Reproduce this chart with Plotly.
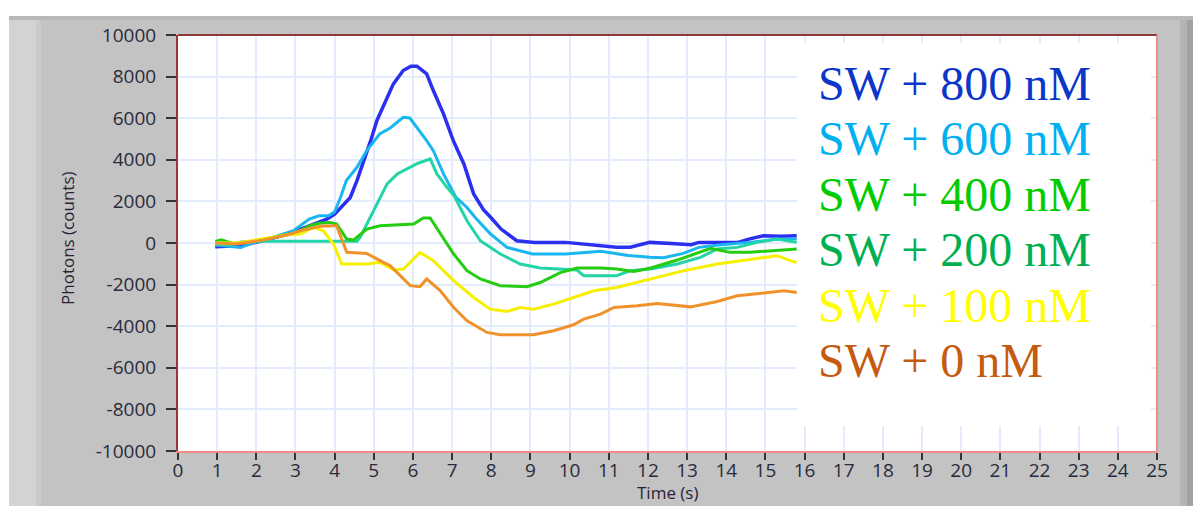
import plotly.graph_objects as go

# ---- data: time (s) and photon counts for each concentration ----
t_800 = [0.95, 1.4, 1.85, 2.3, 2.85, 3.35, 3.8, 4.0, 4.2, 4.4, 4.57, 4.75, 4.92, 5.08, 5.35, 5.5, 5.75,
         5.95, 6.1, 6.35, 6.52, 6.78, 7.03, 7.3, 7.55, 7.8, 8.0, 8.25, 8.65, 9.1, 9.9, 10.4, 10.8, 11.2,
         11.55, 12.05, 12.6, 13.1, 13.3, 13.8, 14.3, 14.6, 14.95, 15.4, 15.8]
c_800 = [-180, -150, -20, 170, 460, 830, 1150, 1390, 1790, 2190, 3000, 3960, 4920, 5890, 7010, 7650, 8290,
         8500, 8500, 8130, 7330, 6210, 4920, 3800, 2360, 1600, 1200, 670, 110, 30, 30, -50, -130, -200,
         -200, 30, -30, -80, 30, 30, 30, 200, 350, 330, 350]

t_600 = [0.95, 1.3, 1.6, 1.9, 2.3, 2.95, 3.35, 3.6, 3.85, 4.0, 4.15, 4.3, 4.57, 4.82, 5.15, 5.42, 5.75,
         5.92, 6.1, 6.35, 6.52, 6.78, 7.1, 7.38, 7.6, 7.97, 8.4, 9.05, 9.9, 10.8, 11.5, 12.05, 12.4, 12.9,
         13.3, 13.8, 14.6, 15.3, 15.8]
c_600 = [-100, -150, -220, 0, 200, 590, 1150, 1310, 1310, 1500, 2190, 3000, 3640, 4440, 5240, 5530, 6040,
         6010, 5560, 4920, 4440, 3320, 2190, 1710, 1200, 450, -210, -530, -530, -400, -600, -690, -710, -500,
         -210, -100, 30, 190, 190]

t_400 = [0.95, 1.3, 1.6, 2.0, 3.0, 4.0, 4.57, 4.65, 4.82, 5.08, 5.34, 5.6, 5.84, 6.09, 6.44, 6.61, 6.86,
         7.04, 7.38, 7.72, 8.23, 8.74, 9.25, 9.93, 10.19, 10.36, 10.8, 11.2, 11.55, 12.07, 12.75, 13.34,
         13.77, 14.28, 14.79, 15.3, 15.8]
c_400 = [-50, -100, 50, 80, 80, 80, 80, 270, 910, 1880, 2840, 3320, 3560, 3800, 4040, 3320, 2700,
         2300, 1070, 110, -530, -1010, -1200, -1250, -1300, -1570, -1570, -1570, -1330, -1250, -1010, -690,
         -290, -210, 30, 190, 30]

t_200 = [0.95, 1.1, 1.4, 2.0, 2.5, 3.03, 3.37, 3.6, 3.88, 4.05, 4.31, 4.48, 4.82, 5.16, 6.02, 6.26, 6.44,
         6.7, 7.04, 7.38, 7.72, 8.23, 8.91, 9.25, 9.76, 10.19, 10.8, 11.2, 11.64, 12.07, 12.75, 13.6, 14.1,
         14.6, 15.3, 15.8]
c_200 = [80, 150, -20, 100, 300, 510, 830, 950, 990, 910, 190, 140, 670, 830, 910, 1200, 1200,
         430, -530, -1330, -1730, -2050, -2100, -1900, -1420, -1200, -1200, -1250, -1370, -1200, -820, -260, -450,
         -450, -340, -290]

t_100 = [0.95, 1.5, 2.18, 2.8, 3.12, 3.46, 3.71, 3.97, 4.18, 4.82, 5.16, 5.51, 5.76, 6.18, 6.52, 7.04,
         7.55, 7.97, 8.4, 8.74, 9.08, 9.59, 10.1, 10.62, 11.2, 12.07, 12.92, 13.77, 14.62, 15.3, 15.64, 15.8]
c_100 = [0, 0, 200, 400, 430, 750, 590, -50, -1010, -1010, -930, -1300, -1250, -450, -850, -1810,
         -2620, -3180, -3290, -3100, -3180, -2940, -2620, -2300, -2140, -1730, -1330, -1010, -770, -610, -850, -930]

t_0 = [0.95, 1.5, 2.2, 2.8, 3.12, 3.63, 3.97, 4.05, 4.31, 4.82, 5.16, 5.42, 5.93, 6.18, 6.35, 6.7, 7.04,
       7.38, 7.89, 8.23, 9.08, 9.59, 10.1, 10.36, 10.79, 11.13, 11.73, 12.24, 13.09, 13.77, 14.28, 14.88,
       15.47, 15.8]
c_0 = [0, -50, 150, 400, 590, 800, 830, 830, -450, -500, -850, -1090, -2050, -2100, -1730, -2300, -3100,
       -3740, -4300, -4410, -4410, -4220, -3930, -3660, -3420, -3100, -3020, -2910, -3070, -2810, -2540, -2430,
       -2300, -2380]

labels = ["SW + 800 nM", "SW + 600 nM", "SW + 400 nM", "SW + 200 nM", "SW + 100 nM", "SW + 0 nM"]
label_colors = ["#0b36c9", "#00b0f0", "#00cc00", "#00b050", "#ffff00", "#c55a11"]

x_title = "Time (s)"
y_title = "Photons (counts)"
x_ticks = list(range(0, 26))
y_ticks = list(range(-10000, 10001, 2000))
y_ticktext = [str(v) for v in y_ticks]

series = [
    (t_800, c_800, "#2b2ff0", 3.5),
    (t_600, c_600, "#1ab6f2", 3),
    (t_400, c_400, "#22d4a6", 3),
    (t_200, c_200, "#26cc12", 3),
    (t_100, c_100, "#f6f000", 3),
    (t_0, c_0, "#f0922c", 3),
]

# ---- page geometry (pixels) ----
W, H = 1193, 506
L, R, T, B = 178, 1157, 35, 451


def px(x):
    return (x - L) / (R - L)


def py(y):
    return (B - y) / (B - T)


fig = go.Figure()
for (t, c, col, w), name in zip(series, labels):
    fig.add_trace(go.Scatter(x=t, y=c, mode="lines", name=name,
                             line=dict(color=col, width=w), showlegend=False))

tick_font = dict(family="Open Sans", size=19, color="#2a2a3a")

fig.update_layout(
    width=W, height=H, autosize=False,
    margin=dict(l=L, r=W - R, t=T, b=H - B, autoexpand=False),
    paper_bgcolor="#c3c3c3",
    plot_bgcolor="white",
    xaxis=dict(range=[0, 25], tickvals=x_ticks, showgrid=True, gridcolor="#e2ecfd", gridwidth=2,
               zeroline=False, showline=True, linecolor="#f08a84", linewidth=2,
               ticks="outside", ticklen=7, tickwidth=2, tickcolor="#333333",
               ticklabelstandoff=-6, tickfont=tick_font, automargin=False),
    yaxis=dict(range=[-10000, 10000], tickvals=y_ticks, ticktext=y_ticktext,
               showgrid=True, gridcolor="#e2ecfd", gridwidth=2,
               zeroline=False, showline=True, linecolor="#9a3636", linewidth=2,
               ticks="outside", ticklen=10, tickwidth=2, tickcolor="#333333",
               ticklabelstandoff=6, automargin=False, tickfont=tick_font),
)

shapes = [
    # white border strips around the grey panel
    dict(type="rect", xref="paper", yref="paper", x0=px(0), x1=px(W), y0=py(16), y1=py(0),
         fillcolor="white", line_width=0, layer="below"),
    dict(type="rect", xref="paper", yref="paper", x0=px(0), x1=px(9), y0=py(H), y1=py(0),
         fillcolor="white", line_width=0, layer="below"),
    # panel bevels
    dict(type="rect", xref="paper", yref="paper", x0=px(9), x1=px(36), y0=py(H), y1=py(16),
         fillcolor="#d3d3d3", line_width=0, layer="below"),
    dict(type="rect", xref="paper", yref="paper", x0=px(36), x1=px(41), y0=py(H), y1=py(16),
         fillcolor="#cacaca", line_width=0, layer="below"),
    dict(type="rect", xref="paper", yref="paper", x0=px(9), x1=px(W), y0=py(20), y1=py(16),
         fillcolor="#b8b8b8", line_width=0, layer="below"),
    dict(type="rect", xref="paper", yref="paper", x0=px(1180), x1=px(1187), y0=py(H), y1=py(20),
         fillcolor="#b4b4b4", line_width=0, layer="below"),
    dict(type="rect", xref="paper", yref="paper", x0=px(1187), x1=px(W), y0=py(H), y1=py(20),
         fillcolor="#a2a2a2", line_width=0, layer="below"),
    # frame: top and right edges
    dict(type="line", xref="paper", yref="paper", x0=0, x1=1, y0=1, y1=1,
         line=dict(color="#8e3a3a", width=2), layer="above"),
    dict(type="line", xref="paper", yref="paper", x0=1, x1=1, y0=0, y1=1,
         line=dict(color="#f08a84", width=2), layer="above"),
    # legend panel
    dict(type="rect", xref="paper", yref="paper", x0=px(797), x1=px(1151), y0=py(426), y1=py(43),
         fillcolor="white", line_width=0, layer="above"),
]
fig.update_layout(shapes=shapes)

# axis titles
fig.add_annotation(xref="paper", yref="paper", x=0.5, y=py(H - 1), xanchor="center", yanchor="bottom",
                   text=x_title, showarrow=False, borderpad=0,
                   font=dict(family="Open Sans", size=17, color="#2a2233"))
fig.add_annotation(xref="paper", yref="paper", x=px(67), y=py(238), xanchor="center", yanchor="middle",
                   text=y_title, textangle=-90, showarrow=False,
                   font=dict(family="Open Sans", size=17, color="#2a2233"))

centers = [83, 138.5, 194, 249.5, 305, 360.5]
for text, col, cy in zip(labels, label_colors, centers):
    fig.add_annotation(xref="paper", yref="paper", x=px(816), y=py(cy), xanchor="left", yanchor="middle",
                       text=text, showarrow=False,
                       font=dict(family="Liberation Serif", size=48, color=col))

fig.write_html("out.html", config={"responsive": False})
